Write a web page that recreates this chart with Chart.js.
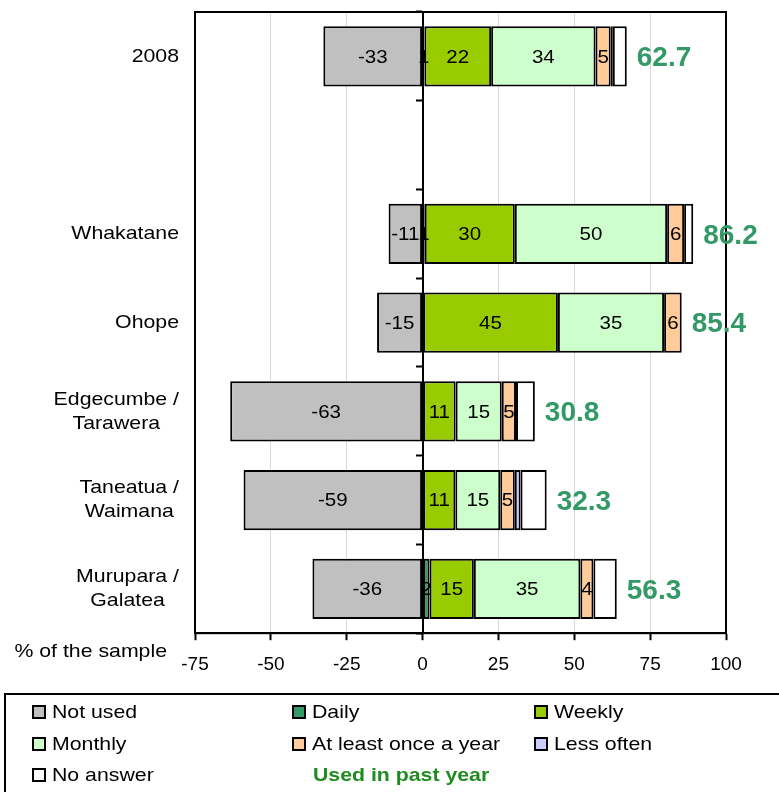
<!DOCTYPE html>
<html>
<head>
<meta charset="utf-8">
<script src="https://cdn.jsdelivr.net/npm/chart.js@4.4.1/dist/chart.umd.min.js"></script>
<style>
html, body { margin: 0; padding: 0; background: #fff; }
</style>
</head>
<body>
<canvas id="usageChart" width="779" height="792"></canvas>
<script>
// categories (the empty one is the gap under 2008)
const categories = ['2008', '', 'Whakatane', 'Ohope', ['Edgecumbe /', 'Tarawera'], ['Taneatua /', 'Waimana'], ['Murupara /', 'Galatea']];

// % of the sample
const notUsed  = [-32.7, null, -11.2, -15.0, -63.4, -59.0, -36.3];
const daily    = [0.6, null, 0.7, 0, 0, 0, 2.3];
const weekly   = [22.0, null, 29.7, 44.6, 10.9, 10.8, 14.6];
const monthly  = [34.4, null, 50.2, 35.0, 15.2, 14.8, 35.1];
const yearly   = [5.0, null, 5.6, 5.8, 4.7, 4.8, 4.3];
const lessOften = [0.7, null, 0, 0, 0, 1.9, 0];
const noAnswer = [4.6, null, 3.0, 0, 6.2, 8.6, 7.7];
const usedInPastYear = [62.7, null, 86.2, 85.4, 30.8, 32.3, 56.3];

const xTicks = [-75, -50, -25, 0, 25, 50, 75, 100];

const FONT = '"Liberation Sans", Arial, sans-serif';
const GREEN = '#339966';
const SX = 1.12; // the original text is a little wide

const series = [
    { label: 'Not used', data: notUsed, color: '#C0C0C0', showLabel: true },
    { label: 'Daily', data: daily, color: '#339966', showLabel: true },
    { label: 'Weekly', data: weekly, color: '#99CC00', showLabel: true },
    { label: 'Monthly', data: monthly, color: '#CCFFCC', showLabel: true },
    { label: 'At least once a year', data: yearly, color: '#FFCC99', showLabel: true },
    { label: 'Less often', data: lessOften, color: '#CCCCFF', showLabel: false },
    { label: 'No answer', data: noAnswer, color: '#FFFFFF', showLabel: false },
];

const datasets = series.map(s => ({
    label: s.label,
    data: s.data,
    backgroundColor: s.color,
    borderColor: '#000',
    borderWidth: 2,
    borderSkipped: false,
    barPercentage: 0.68,
    categoryPercentage: 1.0,
    showLabel: s.showLabel,
}));

function wideText(ctx, text, x, y, sx) {
    ctx.save();
    ctx.translate(x, y);
    ctx.scale(sx, 1);
    ctx.fillText(text, 0, 0);
    ctx.restore();
}

// frame round the plot area
const framePlugin = {
    id: 'frame',
    beforeDatasetsDraw(chart) {
        const { ctx, chartArea: a } = chart;
        ctx.save();
        ctx.strokeStyle = '#000';
        ctx.lineWidth = 2;
        ctx.strokeRect(a.left, a.top, a.right - a.left, a.bottom - a.top);
        ctx.restore();
    }
};

// numbers inside the bars and the green totals
const labelPlugin = {
    id: 'barLabels',
    afterDatasetsDraw(chart) {
        const { ctx } = chart;
        const xScale = chart.scales.x;
        ctx.save();
        ctx.textAlign = 'center';
        ctx.textBaseline = 'middle';
        ctx.fillStyle = '#000';
        ctx.font = '19px ' + FONT;
        chart.data.datasets.forEach((ds, di) => {
            if (!ds.showLabel) return;
            chart.getDatasetMeta(di).data.forEach((el, i) => {
                const v = ds.data[i];
                if (v === null || Math.round(v) === 0) return;
                wideText(ctx, String(Math.round(v)), (el.x + el.base) / 2, el.y + 1, 1.08);
            });
        });

        ctx.textAlign = 'left';
        ctx.fillStyle = GREEN;
        ctx.font = 'bold 28px ' + FONT;
        const meta = chart.getDatasetMeta(0);
        usedInPastYear.forEach((t, i) => {
            if (t === null) return;
            let end = 0;
            series.forEach(s => { if (s.data[i] > 0) end += s.data[i]; });
            ctx.fillText(t.toFixed(1), xScale.getPixelForValue(end) + 10, meta.data[i].y + 2);
        });
        ctx.restore();
    }
};

// category names, "% of the sample" and the boxed legend
const textPlugin = {
    id: 'texts',
    afterDraw(chart) {
        const { ctx, chartArea: a } = chart;
        const yScale = chart.scales.y;
        ctx.save();
        ctx.fillStyle = '#000';
        ctx.font = '19px ' + FONT;
        ctx.textBaseline = 'middle';
        ctx.textAlign = 'center';
        categories.forEach((c, i) => {
            const lines = Array.isArray(c) ? c : [c];
            const w = Math.max(...lines.map(l => ctx.measureText(l).width)) * SX;
            const cx = a.left - 16 - w / 2;
            const cy = yScale.getPixelForValue(i);
            const lh = 24;
            lines.forEach((l, k) => {
                wideText(ctx, l, cx, cy + (k - (lines.length - 1) / 2) * lh, SX);
            });
        });

        ctx.textAlign = 'right';
        wideText(ctx, '% of the sample', a.left - 28, a.bottom + 19, SX);

        // legend
        ctx.lineWidth = 2;
        ctx.strokeStyle = '#000';
        ctx.strokeRect(5, 694, 790, 110);
        const colX = [33, 293, 535];
        const rowY = [712, 744, 775];
        ctx.textAlign = 'left';
        series.forEach((s, i) => {
            const x = colX[i % 3];
            const y = rowY[Math.floor(i / 3)];
            ctx.fillStyle = s.color;
            ctx.fillRect(x, y - 6, 12, 12);
            ctx.lineWidth = 2;
            ctx.strokeRect(x, y - 6, 12, 12);
            ctx.fillStyle = '#000';
            ctx.font = '19px ' + FONT;
            wideText(ctx, s.label, x + 19, y + 1, SX);
        });
        ctx.fillStyle = '#1E8C1E';
        ctx.font = 'bold 19px ' + FONT;
        wideText(ctx, 'Used in past year', colX[1] + 20, rowY[2] + 1, SX);
        ctx.restore();
    }
};

const usageChartElem = document.getElementById('usageChart').getContext('2d');

const usageChart = new Chart(usageChartElem, {
    type: 'bar',
    data: {
        labels: categories,
        datasets: datasets,
    },
    options: {
        indexAxis: 'y',
        responsive: false,
        animation: false,
        layout: {
            padding: { left: 195, top: 12, right: 53, bottom: 103 },
        },
        scales: {
            x: {
                stacked: true,
                min: -75,
                max: 100,
                afterBuildTicks(scale) {
                    scale.ticks = xTicks.map(v => ({ value: v }));
                },
                grid: {
                    color: '#D9D9D9',
                    lineWidth: 1,
                    tickColor: '#000',
                    tickWidth: 2,
                    tickLength: 7,
                },
                border: { color: '#000', width: 2 },
                ticks: {
                    color: '#000',
                    padding: 13,
                    font: { family: FONT, size: 19 },
                },
            },
            y: {
                stacked: true,
                position: { x: 0 },
                z: 1,
                grid: {
                    drawOnChartArea: false,
                    tickColor: '#000',
                    tickWidth: 2,
                    tickLength: 6,
                },
                border: { color: '#000', width: 2 },
                ticks: { display: false },
            },
        },
        plugins: {
            legend: { display: false },
            tooltip: { enabled: false },
        },
    },
    plugins: [framePlugin, labelPlugin, textPlugin],
});
</script>
</body>
</html>
